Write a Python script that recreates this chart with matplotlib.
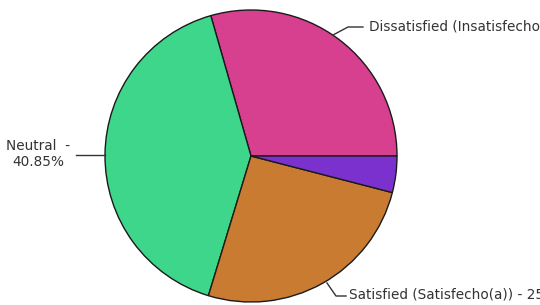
import matplotlib
matplotlib.use('Agg')
import matplotlib.pyplot as plt

# slice data (counter-clockwise from 3 o'clock)
labels = ['Dissatisfied (Insatisfecho(a)) - 29.44%', 'Neutral  -\n40.85%',
          'Satisfied (Satisfecho(a)) - 25.68%', 'Very Dissatisfied - 4.03%']
values = [29.44, 40.85, 25.68, 4.03]
colors = ['#D6408F', '#3ED68A', '#C97B32', '#7B31CE']

W, H = 540, 305
fig = plt.figure(figsize=(W / 100, H / 100), dpi=100)
ax = fig.add_axes([0, 0, 1, 1])

cx, cy, r = 251, H - 156, 146
ax.pie(values, colors=colors, startangle=0, counterclock=True,
       center=(cx, cy), radius=r, frame=True,
       wedgeprops=dict(edgecolor='#1a1a1a', linewidth=1.0))
ax.set_xlim(0, W)
ax.set_ylim(0, H)
ax.set_aspect('equal')
ax.axis('off')

txt = dict(fontsize=9.8, color='#333333', family='DejaVu Sans')
line = dict(color='#333333', lw=1.0)

# Dissatisfied label (runs off the right edge as in the original)
ax.plot([333, 348, 363], [H - 35, H - 27, H - 27], **line)
ax.text(369, H - 26, labels[0], ha='left', va='center', **txt)

# Neutral label
ax.plot([76, 105], [H - 155, H - 155], **line)
ax.text(38, H - 154, labels[1], ha='center', va='center',
        multialignment='center', linespacing=1.2, **txt)

# Satisfied label
ax.plot([327, 336, 346], [H - 283, H - 296, H - 296], **line)
ax.text(349, H - 295, labels[2], ha='left', va='center', **txt)

fig.savefig('out.png', dpi=100)
